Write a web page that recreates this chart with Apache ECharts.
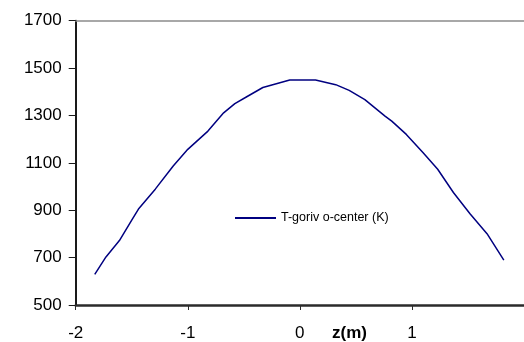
<!DOCTYPE html>
<html><head><meta charset="utf-8">
<script src="https://cdn.jsdelivr.net/npm/echarts@6/dist/echarts.min.js"></script>
<style>html,body{margin:0;padding:0;background:#fff}#c{width:524px;height:342px}</style>
</head><body><div id="c"></div>
<script>
var zValues = [-1.83,-1.73,-1.61,-1.50,-1.44,-1.29,-1.13,-1.00,-0.82,-0.68,-0.58,-0.47,-0.33,-0.21,-0.09,0.14,0.32,0.44,0.58,0.67,0.76,0.82,0.95,1.10,1.23,1.37,1.52,1.67,1.82];
var tValues = [629,703,772,858,905,989,1087,1157,1234,1311,1350,1380,1418,1434,1450,1450,1430,1406,1367,1332,1297,1276,1220,1143,1073,975,884,801,689];
var seriesName = 'T-goriv o-center (K)';
var xAxisTitle = 'z(m)';
var font = 'Liberation Sans, Arial, sans-serif';

var chart = echarts.init(document.getElementById('c'), null, {renderer:'canvas'});
var data = zValues.map(function(z,i){return [z, tValues[i]];});
chart.setOption({
  animation:false,
  backgroundColor:'#fff',
  title:{text:xAxisTitle,left:327,top:320,textStyle:{fontFamily:font,fontSize:17,fontWeight:'bold',color:'#000'}},
  grid:{left:75.7,top:20.7,width:455.5,height:286,containLabel:false},
  legend:{left:230,top:206.5,icon:'rect',itemWidth:41,itemHeight:2,itemGap:5,
    textStyle:{fontFamily:font,fontSize:12.5,color:'#000'},
    data:[{name:seriesName,itemStyle:{color:'#000080'}}]},
  xAxis:[{type:'value',min:-2,max:2,interval:1,
    axisLine:{show:true,onZero:false,lineStyle:{color:'#2b2b2b',width:2.5}},
    axisTick:{show:true,length:5,lineStyle:{color:'#2b2b2b',width:1}},
    axisLabel:{fontFamily:font,fontSize:17,color:'#000',margin:20,showMaxLabel:false},
    splitLine:{show:false}},
   {type:'value',position:'top',min:-2,max:2,
    axisLine:{show:true,onZero:false,lineStyle:{color:'#8c8c8c',width:1.5}},
    axisTick:{show:false},axisLabel:{show:false},splitLine:{show:false}}],
  yAxis:{type:'value',min:500,max:1700,interval:200,
    axisLine:{show:true,onZero:false,lineStyle:{color:'#1a1a1a',width:2}},
    axisTick:{show:true,inside:false,length:7,lineStyle:{color:'#1a1a1a',width:1}},
    axisLabel:{fontFamily:font,fontSize:17,color:'#000',margin:14,formatter:function(v){return String(v);}},
    splitLine:{show:false}},
  series:[{name:seriesName,type:'line',data:data,showSymbol:false,symbol:'none',
    lineStyle:{color:'#000080',width:1.5},itemStyle:{color:'#000080'}}]
});
</script></body></html>
